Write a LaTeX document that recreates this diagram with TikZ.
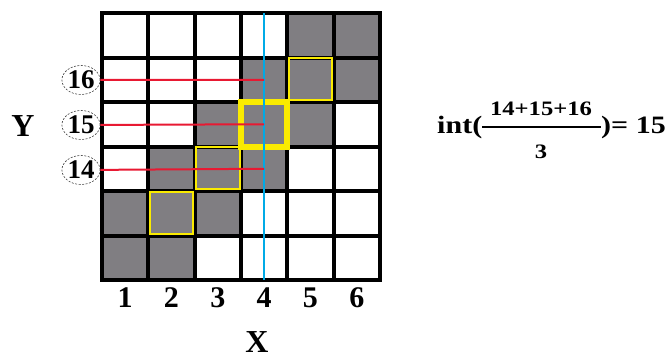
\documentclass[tikz,border=0pt]{standalone}
\usepackage{fontspec}
\setmainfont{Liberation Serif}
\usetikzlibrary{shapes.geometric}
\definecolor{cellgray}{RGB}{128,126,130}
\definecolor{markyellow}{RGB}{250,235,0}
\definecolor{axisblue}{RGB}{0,170,230}
\definecolor{levelred}{RGB}{232,25,50}
\tikzset{
  gridline/.style={line width=4bp},
  thinmark/.style={draw=markyellow,line width=2bp},
  valuering/.style={ellipse,draw=black!75,dash pattern=on 2bp off 1.5bp,line width=0.6bp,
    inner sep=0pt,minimum width=35bp,minimum height=29bp,
    font=\fontsize{27bp}{27bp}\selectfont\bfseries},
  colnum/.style={font=\fontsize{30bp}{30bp}\selectfont\bfseries,inner sep=0pt},
  axisname/.style={font=\fontsize{32bp}{32bp}\selectfont\bfseries,inner sep=0pt},
  formtext/.style={font=\fontsize{25bp}{25bp}\selectfont\bfseries,inner sep=0pt,xscale=1.2},
  fracpart/.style={font=\fontsize{20.5bp}{20.5bp}\selectfont\bfseries,inner sep=0pt,xscale=1.2},
}
\begin{document}
\begin{tikzpicture}[x=1bp,y=-1bp]
  \useasboundingbox (0,0) rectangle (671,356);
  \begin{scope}[shift={(102,13)},x=46.33bp,y=-44.5bp]
    \fill[cellgray] (4,0) rectangle (6,1) (3,1) rectangle (6,2) (2,2) rectangle (5,3)
      (1,3) rectangle (4,4) (0,4) rectangle (3,5) (0,5) rectangle (2,6);
    \draw[gridline] (0,0) rectangle (6,6);
    \foreach \i in {1,...,5}
      \draw[gridline] (\i,0) -- (\i,6) (0,\i) -- (6,\i);
    \draw[thinmark] (4.03,1.02) rectangle (4.97,1.96);
    \draw[thinmark] (2.03,3.02) rectangle (2.97,3.96);
    \draw[thinmark] (1.03,4.02) rectangle (1.97,4.96);
    \draw[markyellow,line width=6bp] (3,2) rectangle (4,3);
    \coordinate (top) at (3.5,0);
    \coordinate (bot) at (3.5,6);
    \coordinate (p16) at (3.5,1.5);
    \coordinate (p15) at (3.5,2.5);
    \coordinate (p14) at (3.5,3.5);
    \node[colnum] (n1) at (0.5,6.4) {1};
    \node[colnum] (n2) at (1.5,6.4) {2};
    \node[colnum] (n3) at (2.5,6.4) {3};
    \node[colnum] (n4) at (3.5,6.4) {4};
    \node[colnum] (n5) at (4.5,6.4) {5};
    \node[colnum] (n6) at (5.5,6.4) {6};
  \end{scope}
  \node[valuering] (c16) at (81,80) {16};
  \node[valuering] (c15) at (81,125) {15};
  \node[valuering] (c14) at (81,170) {14};
  \draw[axisblue,line width=2bp] (top) -- (bot);
  \draw[levelred,line width=2bp] (c16) -- (p16);
  \draw[levelred,line width=2bp] (c15) -- (p15);
  \draw[levelred,line width=2bp] (c14) -- (p14);
  \node[axisname] (ylab) at (23,126) {Y};
  \node[axisname] (xlab) at (257,342) {X};
  % average of the three levels
  \node[formtext,anchor=base west] (lhs) at (437,133) {int(};
  \node[fracpart,anchor=base] (num) at (541,115) {14+15+16};
  \node[fracpart,anchor=base] (den) at (541,158) {3};
  \node[formtext,anchor=base west] (rhs) at (601,133) {)= 15};
  \draw[line width=1.2bp] (lhs.east |- 0,127) -- (rhs.west |- 0,127);
\end{tikzpicture}
\end{document}
